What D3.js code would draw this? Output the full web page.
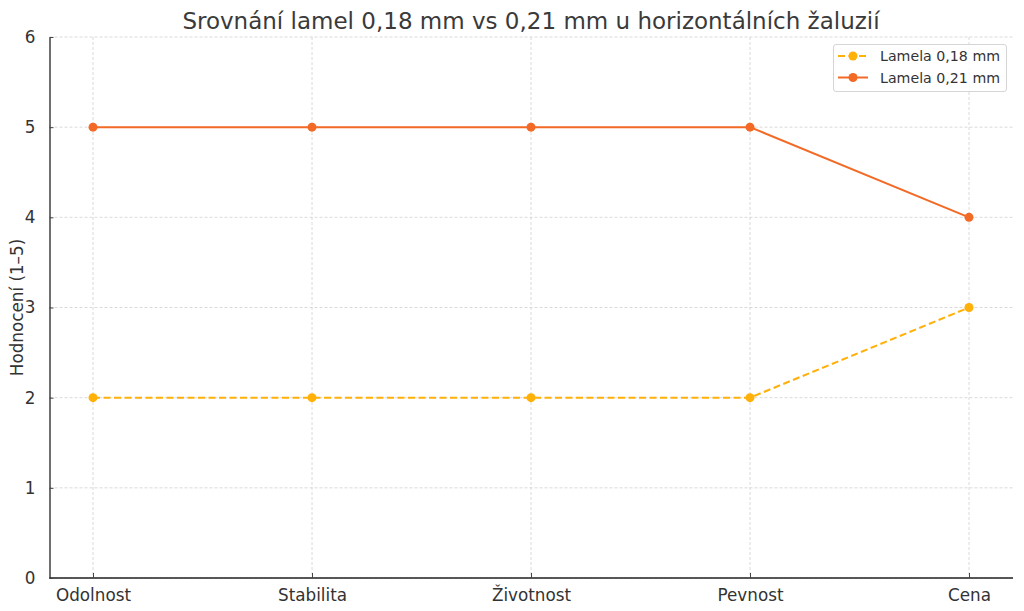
<!DOCTYPE html>
<html><head><meta charset="utf-8">
<script src="https://cdn.jsdelivr.net/npm/d3@7"></script>
<style>body{margin:0;background:#fff;}svg{display:block;font-family:"DejaVu Sans",sans-serif;}</style>
</head><body>
<svg id="c" width="1024" height="611"></svg>
<script>
const categories = ["Odolnost","Stabilita","Životnost","Pevnost","Cena"];
const lamela018 = [2,2,2,2,3];
const lamela021 = [5,5,5,5,4];
const yTicks = [0,1,2,3,4,5,6];
const seriesNames = ["Lamela 0,18 mm","Lamela 0,21 mm"];

const svg = d3.select("#c");
const m = {l:49.5, r:1013, t:37, b:578};
const x = d3.scalePoint().domain(categories).range([93,969]);
const y = d3.scaleLinear().domain([0,6]).range([m.b,m.t]);

// grid
svg.append("g").selectAll("line").data(yTicks).join("line")
  .attr("x1",m.l).attr("x2",m.r).attr("y1",d=>y(d)).attr("y2",d=>y(d))
  .attr("stroke","#d0d0d0").attr("stroke-width",0.8).attr("stroke-dasharray","3,2");
svg.append("g").selectAll("line").data(categories).join("line")
  .attr("x1",d=>x(d)).attr("x2",d=>x(d)).attr("y1",m.t).attr("y2",m.b)
  .attr("stroke","#d0d0d0").attr("stroke-width",0.8).attr("stroke-dasharray","3,2");

// axes
const xa = svg.append("g").attr("transform",`translate(0,${m.b})`)
  .call(d3.axisBottom(x).tickSizeInner(-5).tickSizeOuter(0).tickPadding(11));
xa.select(".domain").attr("d",`M${m.l},0H${m.r}`).attr("stroke","#222").attr("stroke-width",1.3);
xa.selectAll("text").attr("font-size",16.8).attr("fill","#333").attr("font-family","DejaVu Sans");
xa.selectAll(".tick line").attr("stroke","#444");

const ya = svg.append("g").attr("transform",`translate(${m.l},0)`)
  .call(d3.axisLeft(y).tickValues(yTicks).tickFormat(d3.format("d")).tickSizeInner(-4).tickSizeOuter(0).tickPadding(14));
ya.select(".domain").attr("stroke","#222").attr("stroke-width",1.3);
ya.selectAll("text").attr("font-size",16.8).attr("fill","#333").attr("font-family","DejaVu Sans");
ya.selectAll(".tick line").attr("stroke","#444");

// title and label
svg.append("text").attr("x",531).attr("y",29).attr("text-anchor","middle")
  .attr("font-size",23).attr("fill","#3a3a3a").text("Srovnání lamel 0,18 mm vs 0,21 mm u horizontálních žaluzií");
svg.append("text").attr("transform",`translate(23,${(m.t+m.b)/2}) rotate(-90)`)
  .attr("text-anchor","middle").attr("font-size",16.8).attr("fill","#333").text("Hodnocení (1–5)");

const series = [
  {name:seriesNames[0], vals:lamela018, color:"#FFB10A", dash:"7,3.5"},
  {name:seriesNames[1], vals:lamela021, color:"#F26A26", dash:null}
];
const line = d3.line().x((d,i)=>x(categories[i])).y(d=>y(d));
series.forEach(s=>{
  svg.append("path").datum(s.vals).attr("d",line).attr("fill","none")
    .attr("stroke",s.color).attr("stroke-width",2).attr("stroke-dasharray",s.dash);
  svg.append("g").selectAll("circle").data(s.vals).join("circle")
    .attr("cx",(d,i)=>x(categories[i])).attr("cy",d=>y(d)).attr("r",4.5).attr("fill",s.color);
});

// legend
const lg = svg.append("g");
lg.append("rect").attr("x",833.5).attr("y",44.5).attr("width",173).attr("height",47)
  .attr("fill","#fff").attr("fill-opacity",0.85).attr("stroke","#d5d5d5").attr("rx",2.5);
series.forEach((s,i)=>{
  const yy = 56 + i*21.5;
  lg.append("line").attr("x1",838).attr("x2",868).attr("y1",yy).attr("y2",yy)
    .attr("stroke",s.color).attr("stroke-width",2).attr("stroke-dasharray",s.dash);
  lg.append("circle").attr("cx",853).attr("cy",yy).attr("r",4.5).attr("fill",s.color);
  lg.append("text").attr("x",880).attr("y",yy+5).attr("font-size",14.2).attr("fill","#333").text(s.name);
});
</script>
</body></html>
